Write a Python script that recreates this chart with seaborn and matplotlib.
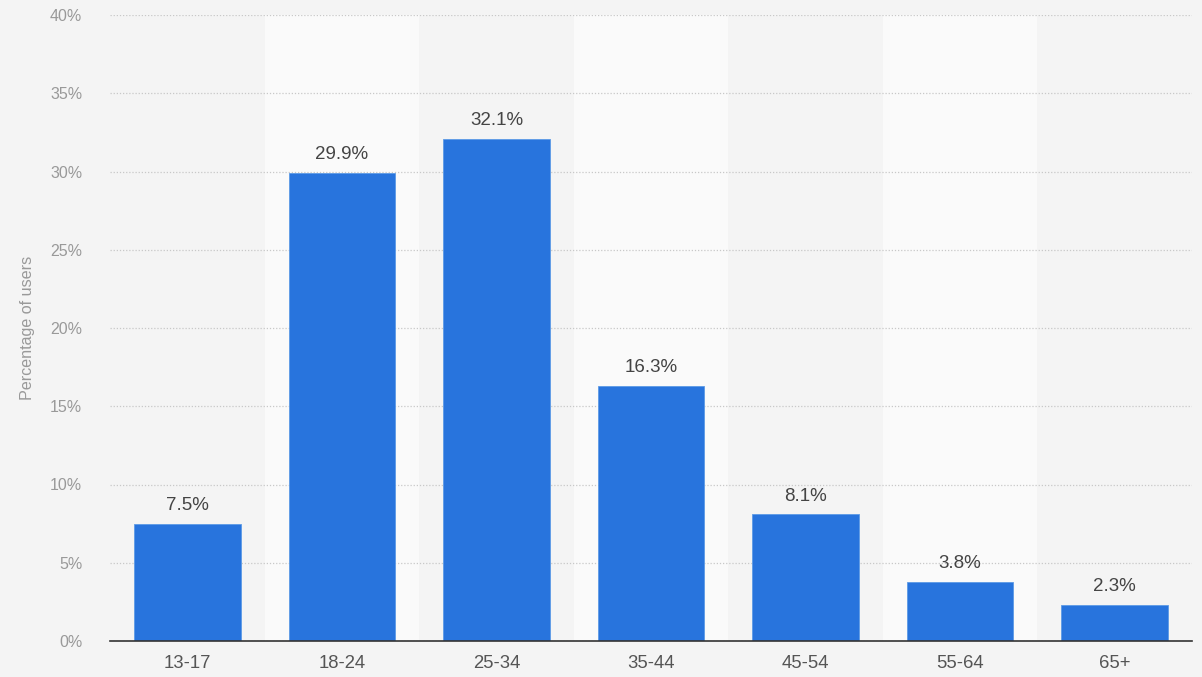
import numpy as np
import pandas as pd
import matplotlib
matplotlib.use('Agg')
import matplotlib.pyplot as plt
import seaborn as sns

faixas = ['13-17', '18-24', '25-34', '35-44', '45-54', '55-64', '65+']
valores = [7.5, 29.9, 32.1, 16.3, 8.1, 3.8, 2.3]
yticks = [0, 5, 10, 15, 20, 25, 30, 35, 40]

df = pd.DataFrame({'faixa': faixas, 'pct': valores})

sns.set_style('white')
plt.rcParams['font.family'] = ['Liberation Sans', 'DejaVu Sans']

fig = plt.figure(figsize=(12.02, 6.77), dpi=100, facecolor='#f4f4f4')
ax = fig.add_axes([110 / 1202, 1 - 641 / 677, 1082 / 1202, 626 / 677])
ax.set_facecolor('#f4f4f4')

# faixas alternadas de fundo
for i in range(len(faixas)):
    if i % 2 == 1:
        ax.axvspan(i - 0.5, i + 0.5, color='#fafafa', zorder=0, lw=0)

sns.barplot(data=df, x='faixa', y='pct', color='#2874dd', width=0.69,
            saturation=1, edgecolor='#5c9ae6', linewidth=0.6, ax=ax, zorder=3)

ax.bar_label(ax.containers[0], fmt='%.1f%%', padding=7, fontsize=13.5, color='#444444')

ax.set_xlim(-0.5, len(faixas) - 0.5)
ax.set_ylim(0, 40)
ax.set_yticks(yticks)
ax.set_yticklabels([f'{v}%' for v in yticks])
ax.grid(axis='y', linestyle=(0, (1, 1.5)), color='#c8c8c8', linewidth=0.9)
ax.set_axisbelow(True)

for s in ['top', 'right', 'left']:
    ax.spines[s].set_visible(False)
ax.spines['bottom'].set_color('#333333')
ax.spines['bottom'].set_linewidth(1.2)
ax.spines['bottom'].set_zorder(4)

ax.tick_params(axis='y', length=0, pad=20, labelsize=11.5, labelcolor='#999999')
ax.tick_params(axis='x', length=0, pad=10, labelsize=13.3, labelcolor='#555555')
for t in ax.get_yticklabels():
    t.set_horizontalalignment('right')

ax.set_xlabel('')
ax.set_ylabel('Percentage of users', fontsize=11.6, color='#999999')
ax.yaxis.set_label_coords(-75 / 1082, 0.5)

plt.savefig('out.png', dpi=100, facecolor='#f4f4f4')
